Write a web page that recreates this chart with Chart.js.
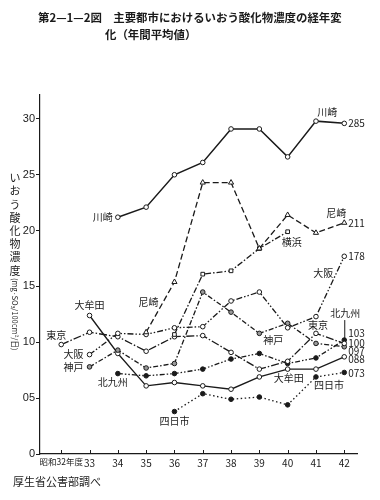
<!DOCTYPE html>
<html><head><meta charset="utf-8">
<script src="https://cdn.jsdelivr.net/npm/chart.js@4"></script>
<style>html,body{margin:0;padding:0;background:#fff}#c{display:block}</style>
</head><body>
<canvas id="c" width="380" height="500"></canvas>
<script>
// ---- data ----
const years = [32,33,34,35,36,37,38,39,40,41,42];
const yearLabels = ['昭和32年度','33','34','35','36','37','38','39','40','41','42'];
const yTicks = [0,5,10,15,20,25,30];
const yTickLabels = ['0','05','10','15','20','25','30'];
const kawasaki   = [null,null,21.2,22.1,25.0,26.1,29.1,29.1,26.6,29.8,29.6];
const amagasaki  = [null,null,null,10.9,15.4,24.3,24.3,18.4,21.4,19.8,20.7];
const yokohama   = [null,null,null,null,10.7,16.1,16.4,18.4,19.9,null,null];
const osaka      = [null,8.9,10.8,10.7,11.3,11.4,13.7,14.5,11.3,12.3,17.7];
const tokyo      = [9.8,10.9,10.5,9.2,10.5,10.6,9.1,7.6,8.3,10.8,9.9];
const kobe       = [null,7.8,9.3,7.7,8.1,14.5,12.7,10.8,11.7,9.9,9.6];
const omuta      = [null,12.4,9.0,6.1,6.4,6.1,5.8,6.9,7.6,7.6,8.7];
const kitakyushu = [null,null,7.2,7.0,7.2,7.6,8.5,9.0,8.1,8.6,10.2];
const yokkaichi  = [null,null,null,null,3.8,5.4,4.9,5.1,4.4,6.9,7.3];
const cityNames = ['川崎','尼崎','横浜','大阪','東京','神戸','大牟田','北九州','四日市'];
const endValueLabels = ['285','211','178','103','100','097','088','073'];
const titleLine1 = '第2—1—2図　主要都市におけるいおう酸化物濃度の経年変';
const titleLine2 = '化（年間平均値）';
const yTitleChars = ['い','お','う','酸','化','物','濃','度'];
const yTitleUnit = '(mg·SO₃/100cm²/日)';
const sourceNote = '厚生省公害部調べ';

// ---- build ----
const toXY = arr => years.map((x,i)=> arr[i]==null?null:{x:x,y:arr[i]}).filter(Boolean);
const INK = '#1a1a1a';
function ds(label, arr, opt){
  return Object.assign({label:label, data:toXY(arr), borderColor:INK, borderWidth:1.3,
    pointRadius:2.3, pointBorderWidth:1, pointBorderColor:INK, pointBackgroundColor:'#fff',
    pointStyle:'circle', tension:0, fill:false}, opt);
}
const datasets = [
  ds(cityNames[0], kawasaki, {borderWidth:1.5}),
  ds(cityNames[1], amagasaki, {borderDash:[6,3], pointStyle:'triangle', pointRadius:3}),
  ds(cityNames[2], yokohama, {borderDash:[6,2,1.5,2], pointStyle:'rect', pointRadius:2.6}),
  ds(cityNames[3], osaka, {borderDash:[6,2,1.5,2,1.5,2]}),
  ds(cityNames[4], tokyo, {borderDash:[8,2,1.5,2]}),
  ds(cityNames[5], kobe, {borderDash:[5,2,1.5,2], pointBackgroundColor:'#9a9a9a'}),
  ds(cityNames[6], omuta, {}),
  ds(cityNames[7], kitakyushu, {borderDash:[5,2,1.5,2,1.5,2], pointBackgroundColor:INK}),
  ds(cityNames[8], yokkaichi, {borderDash:[1.5,2.5], pointBackgroundColor:INK})
];

// annotations: [datasetIndex, yearIndex, text, dx, dy, align]
const notes = [
  [0,2,cityNames[0],-5,0,'right'],
  [0,10,cityNames[0],-17,-11,'center'],
  [0,10,endValueLabels[0],4,0,'left'],
  [1,4,cityNames[1],-26,20,'center'],
  [1,10,cityNames[1],-8,-10,'center'],
  [1,10,endValueLabels[1],4,0,'left'],
  [2,8,cityNames[2],4,10,'center'],
  [3,1,cityNames[3],-6,0,'right'],
  [3,10,cityNames[3],-21,17,'center'],
  [3,10,endValueLabels[2],4,0,'left'],
  [4,0,cityNames[4],-5,-9,'center'],
  [4,9,cityNames[4],2,-8,'center'],
  [5,1,cityNames[5],-6,0,'right'],
  [5,7,cityNames[5],14,7,'center'],
  [6,1,cityNames[6],0,-10,'center'],
  [6,8,cityNames[6],1,9,'center'],
  [7,2,cityNames[7],-5,9,'center'],
  [7,10,cityNames[7],1,-27,'center'],
  [8,4,cityNames[8],0,10,'center'],
  [8,9,cityNames[8],13,8,'center'],
  [7,10,endValueLabels[3],4,-7,'left'],
  [4,10,endValueLabels[4],4,0,'left'],
  [5,10,endValueLabels[5],4,4,'left'],
  [6,10,endValueLabels[6],4,2,'left'],
  [8,10,endValueLabels[7],4,1,'left']
];
const seriesArrays = [kawasaki,amagasaki,yokohama,osaka,tokyo,kobe,omuta,kitakyushu,yokkaichi];

const CJK = '"Noto Sans CJK JP", "Noto Sans", sans-serif';
const textPlugin = {
  id:'texts',
  afterDraw(chart){
    const ctx = chart.ctx, xs = chart.scales.x, ys = chart.scales.y;
    ctx.save();
    ctx.fillStyle = INK; ctx.strokeStyle = INK;
    // title
    ctx.textBaseline = 'middle'; ctx.textAlign = 'left';
    ctx.font = 'bold 12px ' + CJK;
    let w = ctx.measureText(titleLine1).width;
    const fs = 12 * 304 / w;
    ctx.font = 'bold ' + fs.toFixed(2) + 'px ' + CJK;
    ctx.fillText(titleLine1, 38, 18);
    ctx.fillText(titleLine2, 105, 35);
    // x ticks inward
    ctx.lineWidth = 1;
    years.forEach(v=>{
      const px = Math.round(xs.getPixelForValue(v))+0.5;
      ctx.beginPath(); ctx.moveTo(px, ys.bottom); ctx.lineTo(px, ys.bottom-4); ctx.stroke();
    });
    // y title
    ctx.font = '11px ' + CJK; ctx.textAlign='center';
    yTitleChars.forEach((c,i)=> ctx.fillText(c, 15, 178 + i*13.2));
    ctx.save();
    ctx.translate(15, 278); ctx.rotate(Math.PI/2);
    ctx.font = '7.5px ' + CJK; ctx.textAlign='left';
    ctx.fillText(yTitleUnit, 0, 0);
    ctx.restore();
    // annotations
    ctx.font = '10px ' + CJK;
    notes.forEach(n=>{
      const [di, yi, txt, dx, dy, al] = n;
      const px = xs.getPixelForValue(years[yi]);
      const py = ys.getPixelForValue(seriesArrays[di][yi]);
      ctx.textAlign = al;
      ctx.fillText(txt, px+dx, py+dy);
    });
    // leader for 北九州
    const lx = xs.getPixelForValue(years[10]);
    const ly = ys.getPixelForValue(kitakyushu[10]);
    ctx.beginPath(); ctx.moveTo(lx+0.5, ly-20); ctx.lineTo(lx+0.5, ly-2); ctx.stroke();
    // source
    ctx.textAlign='left'; ctx.font = '11px ' + CJK;
    ctx.fillText(sourceNote, 13, 482);
    ctx.restore();
  }
};

new Chart(document.getElementById('c'), {
  type:'line',
  data:{datasets:datasets},
  options:{
    responsive:false, animation:false, devicePixelRatio:1,
    layout:{padding:{top:95,right:23,left:0,bottom:0}},
    plugins:{legend:{display:false}, tooltip:{enabled:false}, title:{display:false}},
    scales:{
      x:{type:'linear', min:31.25, max:42.45,
        afterBuildTicks: s=>{ s.ticks = years.map(v=>({value:v})); },
        afterFit: s=>{ s.height = 46; },
        ticks:{callback:(v)=>{const i=years.indexOf(v); return i>=0?yearLabels[i]:'';}, color:INK,
          font:(c)=>({family:'"Noto Sans CJK JP"', size: c.index===0 ? 8.5 : 10}), padding:3, maxRotation:0, autoSkip:false},
        grid:{drawOnChartArea:false, drawTicks:false},
        border:{display:true, color:INK, width:1.2}
      },
      y:{min:0, max:32.14,
        afterBuildTicks: s=>{ s.ticks = yTicks.map(v=>({value:v})); },
        afterFit: s=>{ s.width = 40; },
        ticks:{callback:(v)=>{const i=yTicks.indexOf(v); return i>=0?yTickLabels[i]:'';}, color:INK,
          font:{family:'"Liberation Sans"', size:11}, padding:1},
        grid:{drawOnChartArea:false, drawTicks:true, tickLength:4, color:INK},
        border:{display:true, color:INK, width:1.2}
      }
    }
  },
  plugins:[textPlugin]
});
</script>
</body></html>
